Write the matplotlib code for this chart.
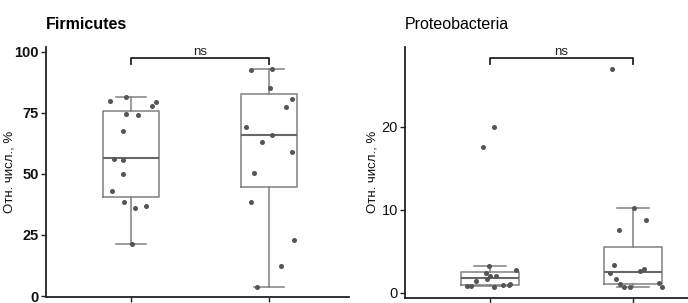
#!/usr/bin/env python3
"""Two boxplot panels with jittered points: Firmicutes and Proteobacteria."""

import matplotlib
matplotlib.use("Agg")
import matplotlib.pyplot as plt

plt.rcParams["font.family"] = ["Liberation Sans", "DejaVu Sans"]

# ── data ─────────────────────────────────────────────────────────────
groups = [1, 2]

firm_g1 = [79.9, 81.7, 79.6, 77.7, 74.6, 74.2, 67.6, 56.1, 55.9, 50.1,
           43.2, 38.5, 36.1, 36.9, 21.4]
firm_g1_jit = [-0.15, -0.04, 0.18, 0.15, -0.04, 0.05, -0.06, -0.12, -0.06,
               -0.06, -0.14, -0.05, 0.03, 0.11, 0.01]
firm_g2 = [92.6, 93.0, 85.2, 80.9, 77.3, 69.1, 65.8, 63.1, 59.1, 50.4,
           38.5, 23.0, 12.2, 3.6]
firm_g2_jit = [-0.13, 0.02, 0.01, 0.17, 0.12, -0.17, 0.02, -0.05, 0.17,
               -0.11, -0.13, 0.18, 0.09, -0.09]
firm_box = [dict(q1=40.7, med=56.4, q3=75.8, whislo=21.4, whishi=81.7),
            dict(q1=44.5, med=66.1, q3=82.8, whislo=3.6, whishi=93.0)]

prot_g1 = [19.9, 17.5, 3.22, 2.41, 2.77, 2.01, 2.01, 1.41, 1.61, 0.81,
           0.81, 0.65, 0.89, 0.89, 1.05]
prot_g1_jit = [0.03, -0.05, -0.01, -0.03, 0.18, 0.0, 0.04, -0.10, -0.02,
               -0.16, -0.13, 0.03, 0.09, 0.13, 0.14]
prot_g2 = [26.9, 10.2, 8.8, 7.55, 3.34, 2.34, 2.9, 2.65, 1.61, 1.05,
           0.65, 0.65, 1.17, 0.65]
prot_g2_jit = [-0.15, 0.01, 0.09, -0.10, -0.13, -0.16, 0.08, 0.05, -0.12,
               -0.09, -0.06, -0.02, 0.18, 0.20]
prot_box = [dict(q1=0.93, med=1.81, q3=2.53, whislo=0.75, whishi=3.25),
            dict(q1=1.01, med=2.46, q3=5.47, whislo=0.65, whishi=10.24)]

panels = [
    dict(title="Firmicutes", weight="bold", box=firm_box,
         pts=[(firm_g1, firm_g1_jit), (firm_g2, firm_g2_jit)],
         yticks=[0, 25, 50, 75, 100], ylim=(-0.4, 102.0), bracket=97.6,
         tick_drop=2.6, xlim=(0.384, 2.58), rect=[0.0669, 0.0198, 0.4404, 0.825],
         label_x=-0.102),
    dict(title="Proteobacteria", weight="normal", box=prot_box,
         pts=[(prot_g1, prot_g1_jit), (prot_g2, prot_g2_jit)],
         yticks=[0, 10, 20], ylim=(-0.6, 29.6), bracket=28.3,
         tick_drop=0.8, xlim=(0.406, 2.385), rect=[0.5887, 0.0176, 0.4113, 0.8275],
         label_x=-0.092),
]

box_col = "#808080"
pt_col = "#555555"

fig = plt.figure(figsize=(6.88, 3.03), dpi=100)

for p in panels:
    ax = fig.add_axes(p["rect"])
    stats = [dict(s, fliers=[]) for s in p["box"]]
    ax.bxp(stats, positions=groups, widths=0.4, showfliers=False,
           boxprops=dict(color=box_col, lw=1.1),
           whiskerprops=dict(color=box_col, lw=1.1),
           capprops=dict(color=box_col, lw=1.1),
           medianprops=dict(color="#686868", lw=1.5), capwidths=0.22)
    for g, (vals, jit) in zip(groups, p["pts"]):
        ax.scatter([g + j for j in jit], vals, s=13, color=pt_col, zorder=3,
                   linewidths=0)

    # significance bracket
    b = p["bracket"]
    ax.plot([1, 1, 2, 2], [b - p["tick_drop"], b, b, b - p["tick_drop"]],
            color="#222222", lw=1.3, clip_on=False)
    ax.text(1.5, b, "ns", ha="center", va="bottom", fontsize=9.5,
            color="#222222")

    ax.set_xlim(*p["xlim"])
    ax.set_ylim(*p["ylim"])
    ax.set_xticks(groups)
    ax.set_xticklabels([])
    ax.set_yticks(p["yticks"])
    ax.tick_params(axis="both", length=3.5, width=1.0, color="#222222",
                   labelsize=10.5, labelcolor="#111111", pad=1.5)
    for lab in ax.get_yticklabels():
        lab.set_fontweight(p["weight"])
    ax.set_ylabel("Отн. числ., %", fontsize=9.5, color="#111111")
    ax.yaxis.set_label_coords(p["label_x"], 0.5)
    for side in ("top", "right"):
        ax.spines[side].set_visible(False)
    for side in ("left", "bottom"):
        ax.spines[side].set_linewidth(1.3)
        ax.spines[side].set_color("#222222")
    ax.text(0.0, 1.06, p["title"], transform=ax.transAxes, ha="left",
            va="bottom", fontsize=11.5, fontweight=p["weight"])

fig.savefig("out.png", dpi=100, facecolor="white")
